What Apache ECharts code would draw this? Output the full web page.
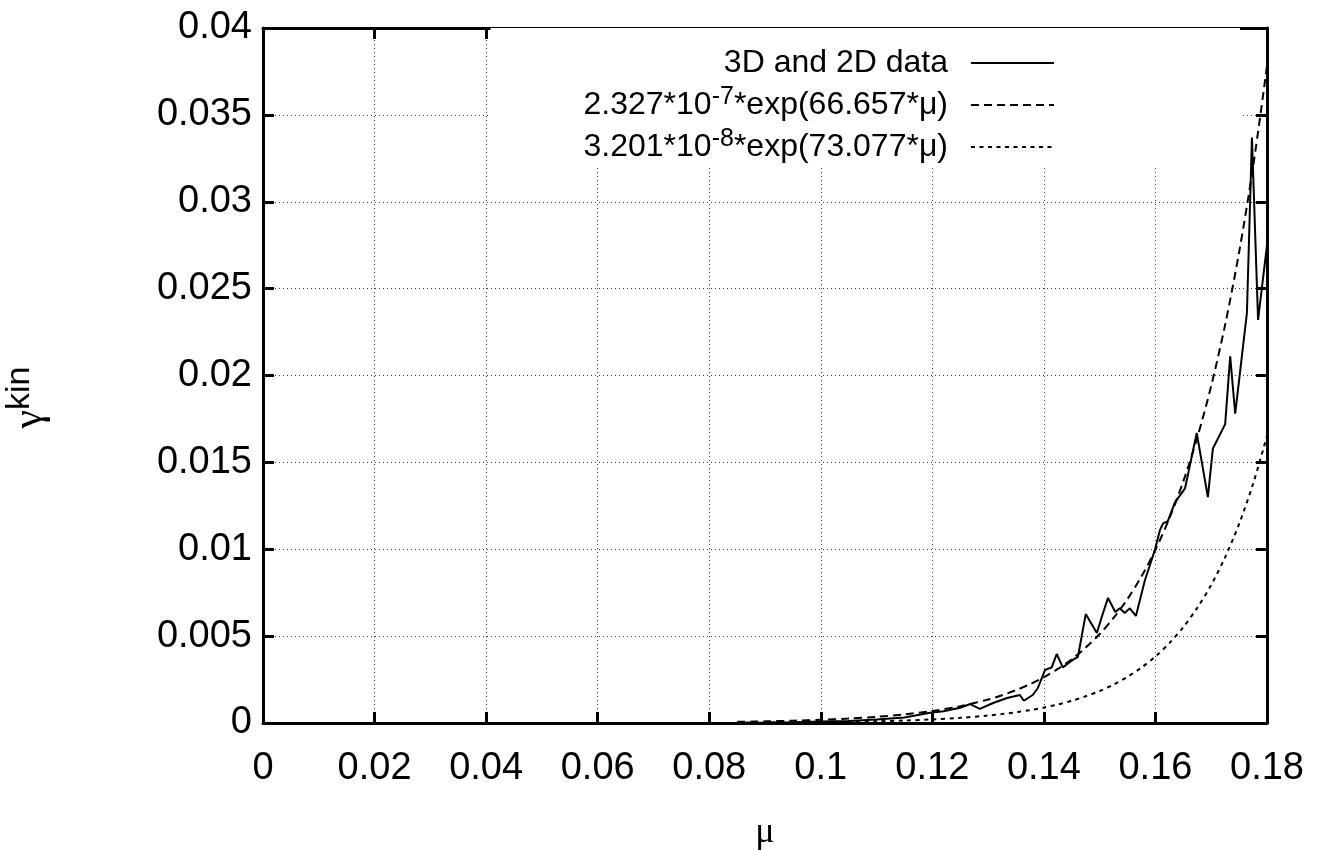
<!DOCTYPE html>
<html>
<head>
<meta charset="utf-8">
<script src="https://cdn.jsdelivr.net/npm/echarts@6/dist/echarts.min.js"></script>
<style>
  html, body { margin: 0; padding: 0; background: #fff; }
  #chart { width: 1317px; height: 850px; }
</style>
</head>
<body>
<div id="chart"></div>
<script>
// Measured growth rate gamma^kin versus mu (combined 3D and 2D runs)
const muData = [0.085, 0.09, 0.095, 0.1, 0.105, 0.11, 0.115, 0.1196, 0.122, 0.125,
  0.1268, 0.1285, 0.1309, 0.1334, 0.1357, 0.1364, 0.138, 0.1389, 0.1402, 0.1414,
  0.1423, 0.1434, 0.1454, 0.1461, 0.1475, 0.1495, 0.1506, 0.1515, 0.1528, 0.1536,
  0.1545, 0.1554, 0.1565, 0.1581, 0.1599, 0.1608, 0.1614, 0.1622, 0.1635, 0.1653,
  0.1674, 0.1694, 0.1703, 0.1725, 0.1734, 0.1743, 0.1764, 0.1773, 0.1784, 0.18];
const gammaData = [0.00002, 0.00003, 0.00005, 0.00008, 0.00012, 0.0002, 0.00032, 0.00059, 0.00068, 0.00088,
  0.00109, 0.00081, 0.00115, 0.00144, 0.00161, 0.00128, 0.00161, 0.002, 0.00305, 0.0032,
  0.00397, 0.0032, 0.00368, 0.0038, 0.00627, 0.00518, 0.00633, 0.0072, 0.00639, 0.0066,
  0.00633, 0.0066, 0.00616, 0.0082, 0.00996, 0.0111, 0.0115, 0.0116, 0.0127, 0.0135,
  0.0167, 0.013, 0.0158, 0.0172, 0.0211, 0.0178, 0.0236, 0.0337, 0.0232, 0.0275];

// Exponential fits sampled along mu
const muFit = [0.085, 0.09, 0.095, 0.1, 0.105, 0.11, 0.115, 0.12, 0.125, 0.13,
  0.1325, 0.135, 0.1375, 0.14, 0.1425, 0.145, 0.1475, 0.15, 0.1525, 0.155,
  0.1575, 0.16, 0.1625, 0.165, 0.1675, 0.17, 0.1725, 0.175, 0.1775, 0.18];
const fitA = [0.0000672, 0.0000938, 0.000131, 0.000183, 0.000255, 0.000356, 0.000497, 0.000693, 0.000968, 0.00135,
  0.0016, 0.00189, 0.00223, 0.00263, 0.00311, 0.00367, 0.00434, 0.00512, 0.00605, 0.00714,
  0.00844, 0.00997, 0.01178, 0.01391, 0.01643, 0.01941, 0.02293, 0.02709, 0.032, 0.03781];
const fitB = [0.000016, 0.000023, 0.0000331, 0.0000478, 0.0000688, 0.0000992, 0.000143, 0.000206, 0.000297, 0.000428,
  0.000513, 0.000616, 0.00074, 0.000888, 0.00107, 0.00128, 0.00154, 0.00184, 0.00221, 0.00266,
  0.00319, 0.00383, 0.0046, 0.00552, 0.00663, 0.00795, 0.00955, 0.01146, 0.01376, 0.01652];

const xTickLabels = ['0', '0.02', '0.04', '0.06', '0.08', '0.1', '0.12', '0.14', '0.16', '0.18'];
const yTickLabels = ['0', '0.005', '0.01', '0.015', '0.02', '0.025', '0.03', '0.035', '0.04'];

const nameData = '3D and 2D data';
const nameA = '2.327*10^-7*exp(66.657*μ)';
const nameB = '3.201*10^-8*exp(73.077*μ)';
const legendRich = {};
legendRich[nameData] = '{t|3D and 2D data}{sp|}';
legendRich[nameA] = '{t|2.327*10}{s|-7}{t|*exp(66.657*μ)}{sp|}';
legendRich[nameB] = '{t|3.201*10}{s|-8}{t|*exp(73.077*μ)}{sp|}';

const pairs = (xs, ys) => xs.map((x, i) => [x, ys[i]]);

const labelFont = "'Liberation Sans', Arial, sans-serif";

const frameLine = { show: true, onZero: false, lineStyle: { color: '#000', width: 3 } };
const innerTick = { show: true, inside: true, length: 11, lineStyle: { color: '#000', width: 3 } };
const gridLine = { show: true, lineStyle: { color: '#3a3a3a', width: 1, type: [1, 3] } };

const chart = echarts.init(document.getElementById('chart'), null, { renderer: 'canvas' });
chart.setOption({
  animation: false,
  backgroundColor: '#fff',
  color: ['#000', '#000', '#000'],
  grid: { left: 263, right: 50, top: 28, bottom: 127, containLabel: false, outerBoundsMode: 'none' },
  xAxis: [{
    type: 'value', position: 'bottom', min: 0, max: 0.18, interval: 0.02,
    axisLine: frameLine, axisTick: innerTick, splitLine: gridLine,
    axisLabel: {
      margin: 27, color: '#000', fontSize: 38, fontFamily: labelFont,
      formatter: v => xTickLabels[Math.round(v / 0.02)]
    },
    name: 'μ', nameLocation: 'middle', nameGap: 92,
    nameTextStyle: { color: '#000', fontSize: 36, fontFamily: "'Liberation Serif', serif" }
  }, {
    type: 'value', position: 'top', min: 0, max: 0.18, interval: 0.02,
    axisLine: frameLine, axisTick: innerTick, splitLine: { show: false }, axisLabel: { show: false }
  }],
  yAxis: [{
    type: 'value', position: 'left', min: 0, max: 0.04, interval: 0.005,
    axisLine: frameLine, axisTick: innerTick, splitLine: gridLine,
    axisLabel: {
      margin: 11, color: '#000', fontSize: 38, fontFamily: labelFont,
      formatter: v => yTickLabels[Math.round(v / 0.005)]
    },
    name: '{g|γ}{k|kin}', nameLocation: 'middle', nameRotate: 90, nameGap: 212,
    nameTextStyle: {
      color: '#000',
      padding: [0, 44, 0, 0],
      rich: {
        g: { fontSize: 42, fontFamily: "'Liberation Serif', serif", color: '#000', lineHeight: 48, verticalAlign: 'bottom' },
        k: { fontSize: 34, fontFamily: labelFont, color: '#000', lineHeight: 20, verticalAlign: 'top' }
      }
    }
  }, {
    type: 'value', position: 'right', min: 0, max: 0.04, interval: 0.005,
    axisLine: frameLine, axisTick: innerTick, splitLine: { show: false }, axisLabel: { show: false }
  }],
  legend: {
    orient: 'vertical', align: 'right',
    right: 77, top: 28,
    padding: [19, 185, 3, 93],
    backgroundColor: '#fff',
    itemWidth: 83, itemHeight: 14, itemGap: 6,
    itemStyle: { opacity: 0 },
    data: [nameData, nameA, nameB],
    formatter: name => legendRich[name],
    textStyle: {
      color: '#000',
      rich: {
        t: { fontSize: 32, fontFamily: labelFont, color: '#000', lineHeight: 40 },
        s: { fontSize: 25, fontFamily: labelFont, color: '#000', lineHeight: 8, verticalAlign: 'top' },
        sp: { width: 18 }
      }
    }
  },
  series: [{
    name: nameData, type: 'line', data: pairs(muData, gammaData),
    symbol: 'none', smooth: false,
    itemStyle: { color: '#000' },
    lineStyle: { color: '#000', width: 2, type: 'solid' }, z: 5
  }, {
    name: nameA, type: 'line', data: pairs(muFit, fitA),
    symbol: 'none', smooth: 0.3,
    itemStyle: { color: '#000' },
    lineStyle: { color: '#000', width: 2, type: [8, 5] }, z: 4
  }, {
    name: nameB, type: 'line', data: pairs(muFit, fitB),
    symbol: 'none', smooth: 0.3,
    itemStyle: { color: '#000' },
    lineStyle: { color: '#000', width: 2, type: [4, 4.5] }, z: 4
  }]
});
</script>
</body>
</html>
